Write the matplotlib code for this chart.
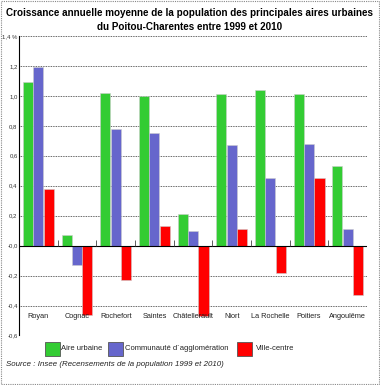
import matplotlib
matplotlib.use("Agg")
import matplotlib.pyplot as plt
from matplotlib.patches import Rectangle
import numpy as np

plt.rcParams['font.family'] = ['Liberation Sans', 'DejaVu Sans']

villes = ["Royan", "Cognac", "Rochefort", "Saintes", "Châtellerault",
          "Niort", "La Rochelle", "Poitiers", "Angoulême"]
aire_urbaine = [1.09, 0.07, 1.02, 1.00, 0.21, 1.01, 1.04, 1.01, 0.53]
communaute = [1.19, -0.13, 0.78, 0.75, 0.10, 0.67, 0.45, 0.68, 0.11]
ville_centre = [0.38, -0.46, -0.23, 0.13, -0.47, 0.11, -0.18, 0.45, -0.33]
series = ["Aire urbaine", "Communauté d´agglomération", "Ville-centre"]
couleurs = ["#33CC33", "#6666CC", "#FF0000"]
yticks = [1.4, 1.2, 1.0, 0.8, 0.6, 0.4, 0.2, 0.0, -0.2, -0.4, -0.6]
ylabels = ["1,4 %", "1,2", "1,0", "0,8", "0,6", "0,4", "0,2", "-0,0",
           "-0,2", "-0,4", "-0,6"]

fig = plt.figure(figsize=(3.8, 3.85), dpi=100)
ax = fig.add_axes([0.05, 0.1286, 0.916, 0.778])

x = np.arange(len(villes))
w = 0.26
for k, (vals, c) in enumerate(zip([aire_urbaine, communaute, ville_centre], couleurs)):
    ax.bar(x + (k - 1) * 0.27, vals, width=w, color=c, edgecolor='#cccccc',
           linewidth=0.4, zorder=3)

ax.set_xlim(-0.5, 8.5)
ax.set_ylim(-0.6, 1.4)
for y in yticks:
    if y != 0:
        ax.axhline(y, color='#333333', linestyle=(0, (1, 1)), linewidth=0.6, zorder=1)
ax.axhline(0, color='black', linewidth=0.8, zorder=4)
ax.vlines(x + 0.5, 0, 0.035, color='#444444', linewidth=0.6, zorder=4)

for s in ['top', 'right', 'bottom']:
    ax.spines[s].set_visible(False)
ax.spines['left'].set_linewidth(0.8)
ax.set_xticks([])
ax.set_yticks(yticks)
ax.set_yticklabels(ylabels, fontsize=4.3, color='#333333')
ax.tick_params(axis='y', length=0, pad=1)

trans = ax.get_xaxis_transform()
for i, v in enumerate(villes):
    ax.text(i, 0.064, v, transform=trans, ha='center', va='center',
            fontsize=5.3, color='#222222')

fig.text(0.5, 0.966, "Croissance annuelle moyenne de la population des principales aires urbaines",
         ha='center', va='center', fontsize=7.1, fontweight='bold')
fig.text(0.5, 0.931, "du Poitou-Charentes entre 1999 et 2010",
         ha='center', va='center', fontsize=7.1, fontweight='bold')

# legende
leg_x = [45, 108, 237]
txt_x = [61, 125, 256]
for lx, tx, lab, c in zip(leg_x, txt_x, series, couleurs):
    fig.patches.append(Rectangle((lx / 380, 1 - 356 / 385), 15 / 380, 14 / 385,
                                 transform=fig.transFigure, facecolor=c,
                                 edgecolor='#555555', linewidth=0.6))
    fig.text(tx / 380, 1 - 349 / 385, lab, ha='left', va='center',
             fontsize=5.5, color='#222222')

fig.text(6 / 380, 1 - 365 / 385,
         "Source : Insee (Recensements de la population 1999 et 2010)",
         ha='left', va='center', fontsize=5.7, style='italic', color='#222222')

fig.patches.append(Rectangle((0.002, 0.002), 0.996, 0.996, transform=fig.transFigure,
                             fill=False, edgecolor='#888888', linestyle=(0, (1, 1)),
                             linewidth=0.8))

fig.savefig("out.png", dpi=100)
